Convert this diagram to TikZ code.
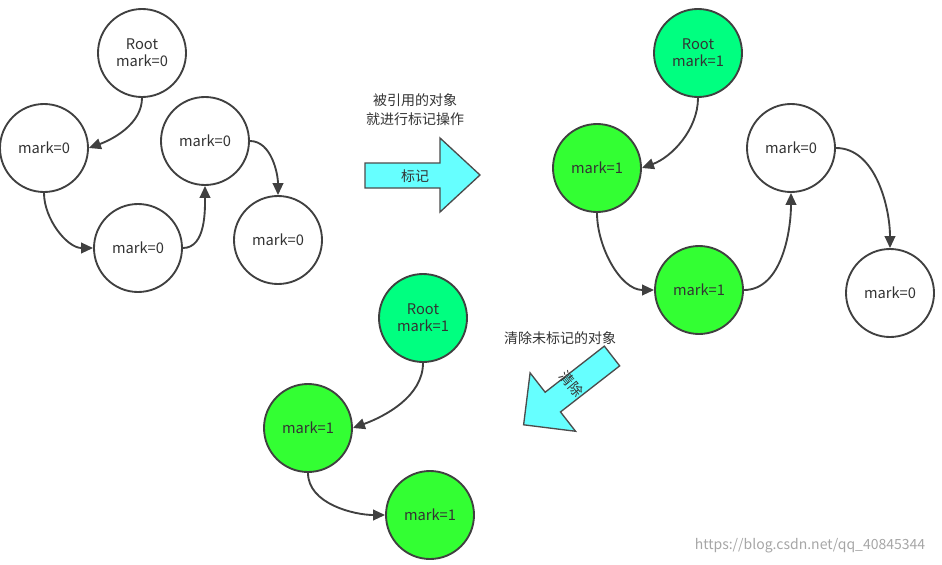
\documentclass[tikz,border=0pt]{standalone}
\usepackage{fontspec}
\setmainfont{Noto Sans CJK SC}
\usetikzlibrary{arrows.meta}
\definecolor{gA}{HTML}{00FF80}
\definecolor{gB}{HTML}{33FF33}
\definecolor{cy}{HTML}{66FFFF}
\begin{document}
\begin{tikzpicture}[x=0.75pt,y=-0.75pt,
 obj/.style={circle,draw=black!75,line width=1.4pt,minimum size=88*0.75pt,inner sep=0pt,align=center,font=\fontsize{11}{13}\selectfont,text=black!80},
 root/.style={obj,fill=gA}, on/.style={obj,fill=gB},
 con/.style={draw=black!75,line width=1.4pt,-{Triangle[length=9pt,width=8pt]}},
 dn/.style={out=-90,in=20,looseness=0.9},
 lt/.style={out=-90,in=180,looseness=0.9},
 up/.style={out=0,in=-90,looseness=0.9},
 rt/.style={out=0,in=90,looseness=0.9},
 big/.style={draw=black!70,line width=1pt,fill=cy},
 lbl/.style={font=\fontsize{10.5}{14}\selectfont,text=black!80,align=center}]
\useasboundingbox (0,0) rectangle (942,564);
% top-left
\node[obj] (r1) at (142,53) {Root\\mark=0};
\node[obj] (a1) at (44,148) {mark=0};
\node[obj] (b1) at (138,248) {mark=0};
\node[obj] (c1) at (205,141) {mark=0};
\node[obj] (d1) at (278,240) {mark=0};
\draw[con] (r1.south) to[dn] (a1.east);
\draw[con] (a1.south) to[lt] (b1.west);
\draw[con] (b1.east) to[up] (c1.south);
\draw[con] (c1.east) to[rt] (d1.north);
% top-right
\node[root] (r2) at (698,53) {Root\\mark=1};
\node[on] (a2) at (597,168) {mark=1};
\node[on] (b2) at (699,290) {mark=1};
\node[obj] (c2) at (791,148) {mark=0};
\node[obj] (d2) at (890,293) {mark=0};
\draw[con] (r2.south) to[dn] (a2.east);
\draw[con] (a2.south) to[lt] (b2.west);
\draw[con] (b2.east) to[up] (c2.south);
\draw[con] (c2.east) to[rt] (d2.north);
% bottom
\node[root] (r3) at (423,318) {Root\\mark=1};
\node[on] (a3) at (308,428) {mark=1};
\node[on] (b3) at (430,515) {mark=1};
\draw[con] (r3.south) to[dn] (a3.east);
\draw[con] (a3.south) to[lt] (b3.west);
% big arrow right
\draw[big] (365,163) -- (440,163) -- (440,138) -- (480,175) -- (440,212) -- (440,188) -- (365,188) -- cycle;
\node[lbl] (t1) at (415,176) {标记};
\node[lbl] (t2) at (415,110) {被引用的对象\\就进行标记操作};
% diagonal arrow
\begin{scope}[shift={(612,356)},rotate=217.9]
\draw[big] (0,-12.5) -- (75,-12.5) -- (75,-37) -- (112,0) -- (75,37) -- (75,12.5) -- (0,12.5) -- cycle;
\end{scope}
\node[lbl,rotate=-50,inner sep=0pt] (t3) at (572,384) {清除};
\node[lbl] (t4) at (560,338) {清除未标记的对象};
\node[font=\fontsize{10.5}{12}\selectfont,text=black!35] (w) at (810,546) {https://blog.csdn.net/qq\_40845344};
\end{tikzpicture}
\end{document}
